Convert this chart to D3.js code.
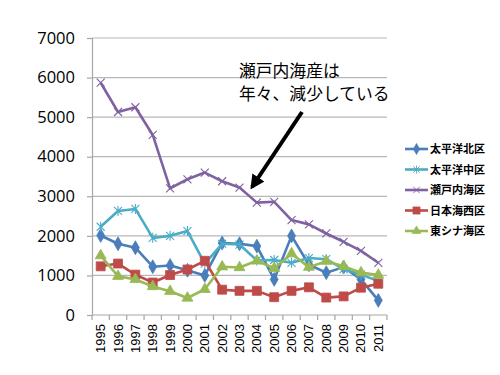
<!DOCTYPE html>
<html>
<head>
<meta charset="utf-8">
<script src="https://cdn.jsdelivr.net/npm/d3@7"></script>
<style>
  body { margin: 0; background: #fff; }
  svg { display: block; }
</style>
</head>
<body>
<svg id="chart" width="500" height="375"></svg>
<script>
// data
var years = ["1995","1996","1997","1998","1999","2000","2001","2002","2003","2004","2005","2006","2007","2008","2009","2010","2011"];
var yTicks = [0, 1000, 2000, 3000, 4000, 5000, 6000, 7000];

var pacificNorth = [2010, 1800, 1700, 1220, 1250, 1130, 1000, 1820, 1800, 1740, 900, 2000, 1270, 1070, 1210, 900, 370];
var pacificMid   = [2230, 2630, 2680, 1950, 2000, 2120, 1300, 1800, 1780, 1380, 1390, 1320, 1440, 1410, 1160, 1020, 860];
var setoInland   = [5870, 5130, 5250, 4550, 3200, 3430, 3600, 3380, 3220, 2840, 2860, 2400, 2290, 2060, 1850, 1620, 1320];
var japanSeaWest = [1230, 1300, 1020, 820, 1010, 1150, 1370, 640, 610, 610, 450, 610, 700, 440, 470, 690, 790];
var eastChinaSea = [1500, 980, 900, 720, 600, 430, 650, 1220, 1200, 1370, 1180, 1550, 1210, 1360, 1230, 1070, 1010];

var seriesNames  = ["太平洋北区", "太平洋中区", "瀬戸内海区", "日本海西区", "東シナ海区"];
var seriesValues = [pacificNorth, pacificMid, setoInland, japanSeaWest, eastChinaSea];
var seriesColors = ["#4a7ebb", "#4bacc6", "#7f62a1", "#be4b48", "#98b954"];
var seriesMarks  = ["diamond", "star", "cross", "square", "triangle"];

var noteLines = ["瀬戸内海産は", "年々、減少している"];

var svg = d3.select("#chart");

var plotL = 92, plotR = 387, plotT = 38, plotB = 315;

var x = d3.scaleBand().domain(years).range([plotL, plotR]);
var y = d3.scaleLinear().domain([0, 7000]).range([plotB, plotT]);

// gridlines
svg.append("g")
    .selectAll("line")
    .data(yTicks.slice(1))
    .enter()
    .append("line")
    .attr("x1", plotL)
    .attr("x2", plotR)
    .attr("y1", function (d) { return y(d); })
    .attr("y2", function (d) { return y(d); })
    .attr("stroke", "#b8b8b8")
    .attr("stroke-width", 1.2);

// y axis
var yAxis = svg.append("g")
    .attr("transform", "translate(" + plotL + ",0)")
    .call(d3.axisLeft(y).tickValues(yTicks).tickSize(5).tickPadding(12).tickFormat(d3.format("d")));
yAxis.select(".domain").attr("stroke", "#a6a6a6").attr("stroke-width", 1.2);
yAxis.selectAll(".tick line").attr("stroke", "#a6a6a6").attr("stroke-width", 1.2);
yAxis.selectAll("text")
    .attr("fill", "#000")
    .style("font-family", "'Open Sans', 'DejaVu Sans', sans-serif")
    .style("font-size", "16.5px");

// x axis: ticks sit between categories
var xAxis = svg.append("g")
    .attr("transform", "translate(0," + plotB + ")");
xAxis.append("line")
    .attr("x1", plotL).attr("x2", plotR)
    .attr("y1", 0).attr("y2", 0)
    .attr("stroke", "#a6a6a6").attr("stroke-width", 1.2);
xAxis.selectAll("line.tk")
    .data(years.concat(["end"]))
    .enter()
    .append("line")
    .attr("class", "tk")
    .attr("x1", function (d, i) { return plotL + i * x.step(); })
    .attr("x2", function (d, i) { return plotL + i * x.step(); })
    .attr("y1", 0).attr("y2", 5)
    .attr("stroke", "#a6a6a6").attr("stroke-width", 1.2);
xAxis.selectAll("text")
    .data(years)
    .enter()
    .append("text")
    .attr("transform", function (d) {
        return "translate(" + (x(d) + x.bandwidth() / 2 + 4.5) + ",9) rotate(-90)";
    })
    .attr("text-anchor", "end")
    .style("font-family", "'Liberation Sans', Arial, sans-serif")
    .style("font-size", "13px")
    .attr("fill", "#000")
    .text(function (d) { return d; });

function cx(i) { return x(years[i]) + x.bandwidth() / 2; }

function markerPath(kind) {
    if (kind === "diamond") return d3.symbol().type(d3.symbolDiamond).size(55)();
    if (kind === "square") return d3.symbol().type(d3.symbolSquare).size(80)();
    if (kind === "triangle") return d3.symbol().type(d3.symbolTriangle).size(52)();
    if (kind === "cross") return "M-4,-4L4,4M-4,4L4,-4";
    return "M-4,-4L4,4M-4,4L4,-4M0,-5L0,5";
}

function drawMarker(g, kind, color) {
    var p = g.append("path").attr("d", markerPath(kind));
    if (kind === "cross" || kind === "star") {
        p.attr("fill", "none").attr("stroke", color).attr("stroke-width", 1.1);
    } else {
        p.attr("fill", color).attr("stroke", color).attr("stroke-width", 0.8);
    }
}

var line = d3.line()
    .x(function (d, i) { return cx(i); })
    .y(function (d) { return y(d); });

seriesValues.forEach(function (vals, s) {
    var g = svg.append("g");
    g.append("path")
        .datum(vals)
        .attr("d", line)
        .attr("fill", "none")
        .attr("stroke", seriesColors[s])
        .attr("stroke-width", 2.6)
        .attr("stroke-linejoin", "round");
    vals.forEach(function (v, i) {
        var m = g.append("g").attr("transform", "translate(" + cx(i) + "," + y(v) + ")");
        drawMarker(m, seriesMarks[s], seriesColors[s]);
    });
});

// legend
var legend = svg.append("g");
seriesNames.forEach(function (name, s) {
    var ly = 149 + s * 20.5;
    var row = legend.append("g").attr("transform", "translate(405," + ly + ")");
    row.append("line")
        .attr("x1", 0).attr("x2", 23).attr("y1", 0).attr("y2", 0)
        .attr("stroke", seriesColors[s]).attr("stroke-width", 2.6);
    var m = row.append("g").attr("transform", "translate(11.5,0) scale(0.8)");
    drawMarker(m, seriesMarks[s], seriesColors[s]);
    row.append("text")
        .attr("x", 25)
        .attr("y", 4)
        .style("font-family", "'Noto Sans CJK JP', sans-serif")
        .style("font-size", "11px")
        .style("font-weight", "bold")
        .attr("fill", "#000")
        .text(name);
});

// annotation
svg.append("g")
    .selectAll("text")
    .data(noteLines)
    .enter()
    .append("text")
    .attr("x", 239)
    .attr("y", function (d, i) { return 77 + i * 23; })
    .style("font-family", "'Noto Sans CJK JP', sans-serif")
    .style("font-size", "16.8px")
    .attr("fill", "#000")
    .text(function (d) { return d; });

svg.append("defs").append("marker")
    .attr("id", "head")
    .attr("viewBox", "0 0 10 10")
    .attr("refX", 8).attr("refY", 5)
    .attr("markerWidth", 3.6).attr("markerHeight", 3.6)
    .attr("orient", "auto")
    .append("path")
    .attr("d", "M0,0L10,5L0,10Z")
    .attr("fill", "#000");

svg.append("line")
    .attr("x1", 302).attr("y1", 112)
    .attr("x2", 252).attr("y2", 187)
    .attr("stroke", "#000")
    .attr("stroke-width", 4)
    .attr("marker-end", "url(#head)");
</script>
</body>
</html>
